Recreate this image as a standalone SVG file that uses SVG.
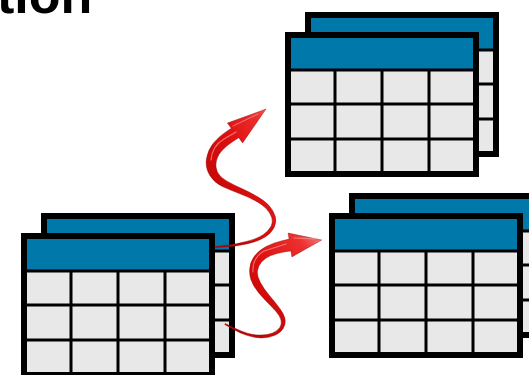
<svg xmlns="http://www.w3.org/2000/svg" xmlns:xlink="http://www.w3.org/1999/xlink" width="529" height="375" viewBox="0 0 529 375">
  <style>
    .title { font-family: "Liberation Sans", Arial, sans-serif; font-weight: bold; font-size: 52px; fill: #000; }
    .frame { fill: #e8e8e8; stroke: #000; stroke-width: 6; }
    .head { fill: #0079aa; }
    .grid { stroke: #000; stroke-width: 3; fill: none; }
    .arrow { fill: url(#redGrad); stroke: #8e0000; stroke-width: 0.4; stroke-linejoin: round; }
    .shine { fill: none; stroke: #ff9a9a; stroke-linecap: round; stroke-linejoin: round; opacity: 0.7; }
  </style>
  <defs>
    <!-- one table sheet: 194 x 145, thick border, blue header, 4 x 3 grid -->
    <g id="sheet">
      <rect class="frame" x="3" y="3" width="188" height="139"/>
      <rect class="head" x="6" y="6" width="182" height="31"/>
      <path class="grid" d="M6,38H188M6,72H188M6,107H188M50,38V139M97,38V139M144,38V139"/>
    </g>
    <!-- a stack: back sheet offset up-right, front sheet on top -->
    <g id="stack">
      <use xlink:href="#sheet" x="20" y="-20"/>
      <use xlink:href="#sheet"/>
    </g>
    <linearGradient id="redGrad" x1="0" y1="1" x2="1" y2="0">
      <stop offset="0" stop-color="#b30000"/>
      <stop offset="0.55" stop-color="#dc0f0f"/>
      <stop offset="0.85" stop-color="#ee3030"/>
      <stop offset="1" stop-color="#f58a8a"/>
    </linearGradient>
  </defs>

  <text class="title" x="-3" y="13">tion</text>

  <g id="table-source">
    <use xlink:href="#stack" x="21" y="233"/>
  </g>
  <g id="table-copy-top">
    <use xlink:href="#stack" x="285" y="32"/>
  </g>
  <g id="table-copy-bottom">
    <use xlink:href="#stack" x="329" y="213"/>
  </g>

  <g id="connectors">
    <!-- upper curly arrow: from source stack up to the top copy -->
    <path class="arrow" d="M215,246.5 L224.95,245.5 Q234.9,244.5 246.08,241.6 Q257.25,238.7 262.88,234.9 Q268.5,231.1 270.85,226.55 Q273.2,222 271.7,217.4 Q270.2,212.8 266.35,208.7 Q262.5,204.6 254.7,200.4 Q246.9,196.2 239.25,193.45 Q231.6,190.7 223,186.85 Q214.4,183 209.7,175.25 Q205,167.5 206.5,158.5 Q208,149.5 213.5,143 Q219,136.5 225.15,132.4 L231.3,128.3 L227.4,123.1 L266,109 L242.6,142.9 L238.7,137.7 L232.85,141.6 Q227,145.5 222.5,150 Q218,154.5 216.5,160.5 Q215,166.5 217.3,171.75 Q219.6,177 227,181.15 Q234.4,185.3 241.75,188.55 Q249.1,191.8 257.3,196.6 Q265.5,201.4 269.65,206.3 Q273.8,211.2 275.3,216.6 Q276.8,222 274.15,227.45 Q271.5,232.9 265.13,237.1 Q258.75,241.3 246.93,243.9 Q235.1,246.5 225.05,247 L215,247.5 Z"/>
    <path class="shine" stroke-width="1.2" d="M211,160 Q212,146 224,139 L236,132"/>
    <path class="shine" stroke-width="1" d="M233,126 L258,114"/>

    <!-- lower curly arrow: from source stack across to the bottom copy -->
    <path class="arrow" d="M225.3,323.6 L232.85,327.35 Q240.4,331.1 247.25,333.15 Q254.1,335.2 260.95,335.05 Q267.8,334.9 272.7,332.9 Q277.6,330.9 279.8,327.45 Q282,324 280.95,319.95 Q279.9,315.9 275.4,310.85 Q270.9,305.8 264.55,299.45 Q258.2,293.1 253.7,285.65 Q249.2,278.2 249.55,270.2 Q249.9,262.2 254.45,256.1 Q259,250 266.2,246.4 Q273.4,242.8 281.25,240.95 L289.1,239.1 L288.1,233.1 L321.7,240 L291.9,256.9 L290.9,250.9 L283.8,252.05 Q276.7,253.2 270.85,255.6 Q265,258 261.55,261.9 Q258.1,265.8 257.45,270.8 Q256.8,275.8 260.3,282.35 Q263.8,288.9 269.45,295.55 Q275.1,302.2 279.6,308.15 Q284.1,314.1 285.05,319.05 Q286,324 283.2,328.55 Q280.4,333.1 274.3,335.6 Q268.2,338.1 261.05,337.95 Q253.9,337.8 246.75,335.35 Q239.6,332.9 232.15,328.65 L224.7,324.4 Z"/>
    <path class="shine" stroke-width="1.1" d="M253,272 Q252,258 264,251 L286,244"/>
    <path class="shine" stroke-width="1" d="M294,238 L316,239"/>
  </g>
</svg>
